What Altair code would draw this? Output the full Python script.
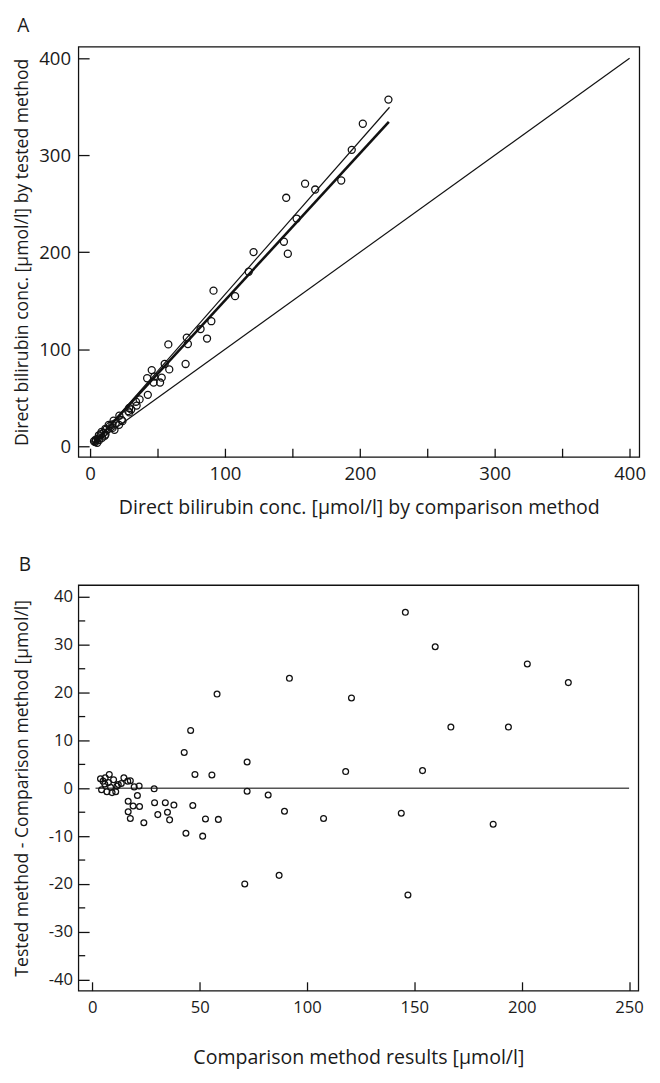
import altair as alt
import pandas as pd

FONT = "Open Sans"
INK = "#111111"
TXT = "#1a1a1a"

# ---------------- Panel A data (comparison vs tested) ----------------
a_x = [221.2, 202.2, 194.0, 186.2, 159.4, 166.9, 145.4, 153.1, 143.7, 121.2,
       146.6, 117.6, 91.5, 107.5, 89.9, 81.9, 71.7, 72.5, 86.7, 58.0,
       70.8, 55.3, 58.7, 45.7, 42.3, 47.6, 53.1, 51.9, 47.1, 42.8,
       36.7, 34.5, 29.0, 28.3, 21.7, 17.4, 23.4, 21.5, 18.1, 13.8,
       11.4, 8.5, 6.5, 4.1, 5.3, 2.9, 8.9, 11.4, 3.8, 4.3,
       5.8, 6.8, 7.9, 9.9, 10.9, 12.1, 14.7, 16.5, 16.7, 19.0,
       24.0, 29.0, 30.5, 34.0]
a_y = [357.4, 332.5, 305.6, 274.0, 270.7, 264.7, 256.2, 234.8, 210.9, 200.2,
       198.5, 180.0, 160.5, 154.8, 129.0, 120.9, 112.1, 105.5, 111.1, 105.1,
       84.9, 84.9, 79.3, 78.6, 70.2, 71.9, 70.8, 65.8, 65.8, 53.1,
       48.4, 42.0, 39.6, 36.3, 31.6, 26.5, 27.2, 22.2, 17.1, 22.2,
       18.1, 14.8, 11.4, 7.0, 3.7, 5.3, 8.8, 12.1, 4.5, 6.0,
       8.0, 6.5, 12.5, 14.0, 11.0, 17.5, 21.0, 22.5, 19.0, 24.0,
       26.0, 35.0, 38.0, 46.0]

# reference lines in panel A
identity_x = [2.0, 400.0]
identity_y = [2.0, 400.0]
thin_fit_x = [2.0, 222.0]
thin_fit_y = [1.5, 349.5]
thick_fit_x = [2.0, 221.5]
thick_fit_y = [2.0, 334.5]

# ---------------- Panel B data (difference plot) ----------------
b_x = [3.8, 4.3, 5.0, 5.8, 6.0, 6.8, 7.5, 7.9, 8.5, 9.2,
       9.9, 10.9, 11.5, 12.1, 13.5, 14.7, 16.5, 17.7, 19.5, 21.8,
       16.7, 19.0, 16.7, 17.7, 21.0, 22.0, 24.0, 28.8, 29.0, 30.5,
       34.0, 35.0, 36.0, 38.0,
       42.8, 43.6, 45.8, 46.8, 47.8, 51.4, 52.7, 55.7, 58.1, 58.7,
       71.0, 72.1, 72.1, 81.9, 87.0, 89.5, 91.8, 107.7, 118.0, 120.7,
       143.9, 145.8, 147.0, 153.8, 159.7, 167.0, 186.7, 193.8, 202.6, 221.7]
b_y = [2.0, -0.3, 1.5, 0.9, 2.2, -0.7, 1.2, 2.9, 0.2, -0.9,
       1.8, -0.7, 0.5, 0.8, 1.0, 2.2, 1.5, 1.6, 0.3, 0.5,
       -2.7, -3.7, -4.9, -6.3, -1.5, -3.8, -7.2, -0.1, -3.0, -5.5,
       -3.0, -5.0, -6.6, -3.5,
       7.5, -9.4, 12.1, -3.6, 2.9, -10.0, -6.4, 2.8, 19.7, -6.5,
       -20.0, 5.5, -0.6, -1.4, -18.2, -4.8, 23.0, -6.3, 3.5, 18.9,
       -5.2, 36.8, -22.3, 3.7, 29.6, 12.8, -7.5, 12.8, 26.0, 22.1]

zero_x = [1.5, 250.0]
zero_y = [0.0, 0.0]

# tick positions
a_x_ticks = [0, 50, 100, 150, 200, 250, 300, 350, 400]
a_y_ticks = [0, 100, 200, 300, 400]
b_x_ticks = [0, 50, 100, 150, 200, 250]
b_y_major = [-40, -30, -20, -10, 0, 10, 20, 30, 40]
b_y_minor = [-35, -25, -15, -5, 5, 15, 25, 35]

df_a = pd.DataFrame({"x": a_x, "y": a_y})
df_ident = pd.DataFrame({"x": identity_x, "y": identity_y})
df_thin = pd.DataFrame({"x": thin_fit_x, "y": thin_fit_y})
df_thick = pd.DataFrame({"x": thick_fit_x, "y": thick_fit_y})
df_b = pd.DataFrame({"x": b_x, "y": b_y})
df_zero = pd.DataFrame({"x": zero_x, "y": zero_y})
df_minor = pd.DataFrame({"y": b_y_minor})

axis_common = dict(
    grid=False, domain=False, tickColor=INK, tickWidth=1.3,
    labelFont=FONT, titleFont=FONT, labelColor=TXT, titleColor=TXT,
    titleFontWeight="normal",
)

# ---------------- Panel A ----------------
xa = alt.X("x:Q", scale=alt.Scale(domain=[-8.7, 407.2], nice=False, zero=False),
           axis=alt.Axis(values=a_x_ticks,
                         labelExpr="datum.value % 100 == 0 ? datum.label : ''",
                         offset=-9, tickSize=9, labelPadding=8, labelFontSize=19,
                         title="Direct bilirubin conc. [µmol/l] by comparison method",
                         titleFontSize=20, titlePadding=14.5, **axis_common))
ya = alt.Y("y:Q", scale=alt.Scale(domain=[-11, 412], nice=False, zero=False),
           axis=alt.Axis(values=a_y_ticks, offset=-11, tickSize=11, labelPadding=8,
                         labelFontSize=19, title="Direct bilirubin conc. [µmol/l] by tested method",
                         titleFontSize=18, titlePadding=7, **axis_common))

pts_a = alt.Chart(df_a).mark_point(shape="circle", filled=False, stroke=INK,
                                   strokeWidth=1.3, size=52, opacity=1).encode(x=xa, y=ya)
ident_line = alt.Chart(df_ident).mark_line(color=INK, strokeWidth=1.2).encode(x=xa, y=ya)
thin_line = alt.Chart(df_thin).mark_line(color=INK, strokeWidth=1.2).encode(x=xa, y=ya)
thick_line = alt.Chart(df_thick).mark_line(color=INK, strokeWidth=2.6).encode(x=xa, y=ya)

chart_a = alt.layer(ident_line, thin_line, thick_line, pts_a).properties(
    width=574, height=420,
    title=alt.TitleParams("A", anchor="start", fontSize=19.5, fontWeight="normal",
                          font=FONT, color=TXT, dx=3, offset=10))

# ---------------- Panel B ----------------
b_xscale = alt.Scale(domain=[-6.5, 254.3], nice=False, zero=False)
b_yscale = alt.Scale(domain=[-42.3, 42.5], nice=False, zero=False)
xb = alt.X("x:Q", scale=b_xscale,
           axis=alt.Axis(values=b_x_ticks, offset=-9, tickSize=9, labelPadding=9,
                         labelFontSize=17, title="Comparison method results [µmol/l]",
                         titleFontSize=20, titlePadding=34, **axis_common))
yb = alt.Y("y:Q", scale=b_yscale,
           axis=alt.Axis(values=b_y_major, offset=-11, tickSize=11,
                         labelPadding=6, labelFontSize=17, labelExpr="'' + datum.value",
                         title="Tested method - Comparison method [µmol/l]",
                         titleFontSize=18, titlePadding=17, **axis_common))

zero_b = alt.Chart(df_zero).mark_line(color="#555555", strokeWidth=1.6).encode(x=xb, y=yb)
minor_b = alt.Chart(df_minor).mark_rule(color=INK, strokeWidth=1.3).encode(
    y=yb, x=alt.value(0), x2=alt.value(7))
pts_b = alt.Chart(df_b).mark_point(shape="circle", filled=False, stroke=INK,
                                   strokeWidth=1.3, size=35, opacity=1).encode(x=xb, y=yb)

chart_b = alt.layer(zero_b, minor_b, pts_b).properties(
    width=573, height=415,
    title=alt.TitleParams("B", anchor="start", fontSize=19.5, fontWeight="normal",
                          font=FONT, color=TXT, dx=5, offset=10))

chart = alt.vconcat(chart_a, chart_b, spacing=36).properties(
    padding={"left": 5, "top": -5, "right": 5, "bottom": 0}
).configure_view(stroke=INK, strokeWidth=1.3)

chart.save("out.html", embed_options={"renderer": "svg", "actions": False})
